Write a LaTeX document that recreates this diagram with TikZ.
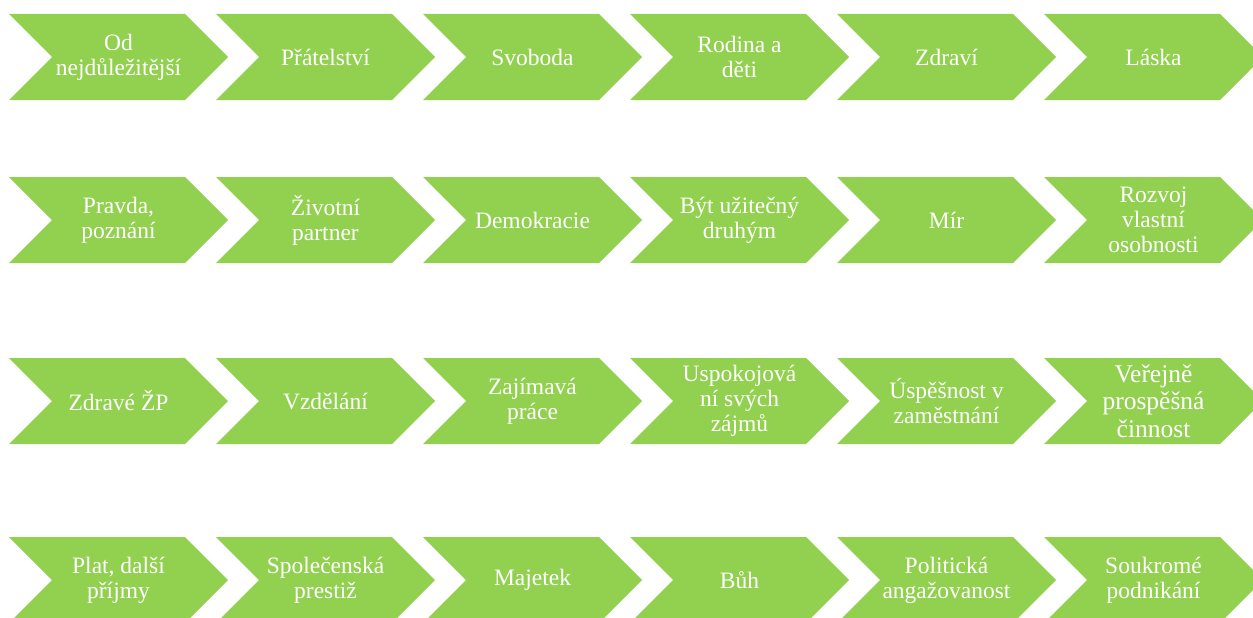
\documentclass[tikz,border=0pt]{standalone}
\usepackage{fontspec}
\setmainfont{Liberation Serif}
\definecolor{chevgreen}{HTML}{92D050}
\tikzset{
  chevtext/.style={text=white,font=\fontsize{23.5}{25}\selectfont,align=center,inner sep=0pt},
  chevbig/.style={font=\fontsize{25.5}{27.5}\selectfont},
  chevfill/.style={fill=chevgreen}
}
\newcommand\mychev[5][]{% options, name, x0, ytop, text
  \fill[chevfill] (#3,#4) -- ++(176,0) -- ++(43,43) -- ++(-43,43) -- ++(-176,0) -- ++(43,-43) -- cycle;
  \node[chevtext,#1] (#2) at (#3+109.5,#4+43) {#5};
}
\begin{document}
\begin{tikzpicture}[x=1pt,y=-1pt]
\useasboundingbox (0,0) rectangle (1253,618);
\clip (0,0) rectangle (1253,618);
% row 1
\mychev{a1}{9}{14}{Od\\nejdůležitější}
\mychev{a2}{216}{14}{Přátelství}
\mychev{a3}{423}{14}{Svoboda}
\mychev{a4}{630}{14}{Rodina a\\děti}
\mychev{a5}{837}{14}{Zdraví}
\mychev{a6}{1044}{14}{Láska}
% row 2
\mychev{b1}{9}{177}{Pravda,\\poznání}
\mychev{b2}{216}{177}{Životní\\partner}
\mychev{b3}{423}{177}{Demokracie}
\mychev{b4}{630}{177}{Být užitečný\\druhým}
\mychev{b5}{837}{177}{Mír}
\mychev{b6}{1044}{177}{Rozvoj\\vlastní\\osobnosti}
% row 3
\mychev{c1}{9}{358}{Zdravé ŽP}
\mychev{c2}{216}{358}{Vzdělání}
\mychev{c3}{423}{358}{Zajímavá\\práce}
\mychev{c4}{630}{358}{Uspokojová\\ní svých\\zájmů}
\mychev{c5}{837}{358}{Úspěšnost v\\zaměstnání}
\mychev[chevbig]{c6}{1044}{358}{Veřejně\\prospěšná\\činnost}
% row 4
\mychev{d1}{9}{537}{Plat, další\\příjmy}
\mychev{d2}{216}{537}{Společenská\\prestiž}
\mychev{d3}{423}{537}{Majetek}
\mychev{d4}{630}{537}{Bůh}
\mychev{d5}{837}{537}{Politická\\angažovanost}
\mychev{d6}{1044}{537}{Soukromé\\podnikání}
\end{tikzpicture}
\end{document}
